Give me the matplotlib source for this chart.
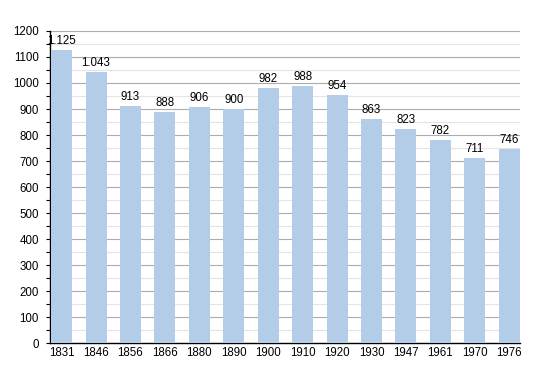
import matplotlib.pyplot as plt
from matplotlib.ticker import MultipleLocator

years = ["1831", "1846", "1856", "1866", "1880", "1890", "1900",
         "1910", "1920", "1930", "1947", "1961", "1970", "1976"]
population = [1125, 1043, 913, 888, 906, 900, 982,
              988, 954, 863, 823, 782, 711, 746]

plt.rcParams['font.family'] = ['Liberation Sans', 'DejaVu Sans']

fig = plt.figure(figsize=(5.5, 3.73), dpi=100)
ax = fig.add_axes([0.091, 0.080, 0.854, 0.837])

x = list(range(len(years)))
w = 0.61
ax.bar(x, population, width=w, color='#b3cce8', zorder=3)

for xi, v in zip(x, population):
    label = f"{v:,}".replace(",", ".")
    ax.text(xi, v + 12, label, ha='center', va='bottom', fontsize=8.3, zorder=4)

ax.set_xlim(-w / 2 - 0.03, len(years) - 1 + w / 2)
ax.set_ylim(0, 1200)
ax.set_xticks(x)
ax.set_xticklabels(years)
ax.yaxis.set_major_locator(MultipleLocator(100))
ax.yaxis.set_minor_locator(MultipleLocator(50))

ax.grid(axis='y', which='major', color='#acacac', linewidth=0.8, zorder=0)
ax.grid(axis='y', which='minor', color='#e4e4e4', linewidth=0.8, zorder=0)

for s in ['top', 'right']:
    ax.spines[s].set_visible(False)
ax.spines['left'].set_linewidth(1.0)
ax.spines['bottom'].set_linewidth(1.0)

ax.tick_params(axis='y', which='both', labelsize=8.3, length=3, width=0.8, pad=5)
ax.tick_params(axis='x', length=0, labelsize=8.3, pad=3)

fig.savefig('out.png', dpi=100)
